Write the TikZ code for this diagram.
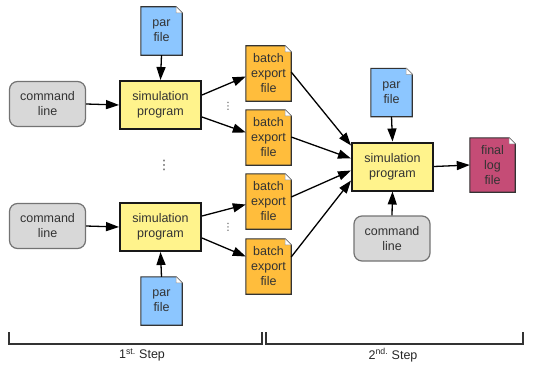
\documentclass[tikz,border=0pt]{standalone}
\usepackage{fontspec}
\setmainfont{Liberation Sans}
\newfontfamily\dejavu{DejaVu Sans}
\usetikzlibrary{arrows.meta,backgrounds}
\definecolor{parblue}{HTML}{8CC6FF}
\definecolor{batchorange}{HTML}{FFBD3C}
\definecolor{logred}{HTML}{C54C76}
\definecolor{simyellow}{HTML}{FFF38C}
\definecolor{cmdgray}{HTML}{D8D8D8}
\definecolor{edge}{HTML}{333333}
\begin{document}
\begin{tikzpicture}[x=1pt,y=-1pt,
  txt/.style={font=\fontsize{12.5}{15}\selectfont, text=black!80, align=center, inner sep=0pt},
  parfile/.style={txt, minimum width=41pt, minimum height=48pt},
  batchfile/.style={txt, minimum width=45pt, minimum height=55pt},
  logfile/.style={txt, minimum width=45pt, minimum height=54pt},
  simbox/.style={txt, draw=black!90, line width=2pt, fill=simyellow, minimum width=81pt, minimum height=48pt},
  cmdbox/.style={txt, draw=black!55, line width=1.2pt, fill=cmdgray, rounded corners=8pt, minimum width=76pt, minimum height=45pt},
  docline/.style={draw=edge, line width=1.1pt},
  conn/.style={draw=black, line width=1.3pt, -{Triangle[length=13pt,width=9pt]}},
  bracket/.style={draw=edge, line width=1.3pt},
  dotsnode/.style={font=\dejavu\fontsize{10}{10}\selectfont, text=black!70, inner sep=0pt}
]
\useasboundingbox (0,0) rectangle (534,369);

% first step, upper chain
\node[parfile] (par1) at (161.5,31) {par\\file};
\node[cmdbox] (cmd1) at (47.5,104) {command\\line};
\node[simbox] (sim1) at (160.5,105) {simulation\\program};
% first step, lower chain
\node[cmdbox] (cmd2) at (47.5,226) {command\\line};
\node[simbox] (sim2) at (160.5,227) {simulation\\program};
\node[parfile] (par2) at (161.5,301) {par\\file};
% batch export files
\node[batchfile] (b1) at (268.5,73.5) {batch\\export\\file};
\node[batchfile] (b2) at (268.5,137.5) {batch\\export\\file};
\node[batchfile] (b3) at (268.5,201.5) {batch\\export\\file};
\node[batchfile] (b4) at (268.5,266.5) {batch\\export\\file};
% second step
\node[parfile] (par3) at (391.5,92.5) {par\\file};
\node[simbox] (sim3) at (392.5,166.5) {simulation\\program};
\node[cmdbox] (cmd3) at (392,238.5) {command\\line};
\node[logfile] (final) at (492.5,165) {final\\log\\file};

% dots
\node[dotsnode] (d1) at (228,106) {⋮};
\node[dotsnode] (d2) at (228,227) {⋮};
\node[dotsnode, font=\dejavu\fontsize{13}{13}\selectfont] (d3) at (164,165) {⋮};

% document shapes
\begin{scope}[on background layer]
\foreach \n/\c in {par1/parblue,par2/parblue,par3/parblue,b1/batchorange,b2/batchorange,b3/batchorange,b4/batchorange,final/logred}{
  \filldraw[docline, fill=\c] (\n.south west) -- (\n.north west) -- ([xshift=-6pt]\n.north east) -- ([yshift=-6pt]\n.north east) -- (\n.south east) -- cycle;
  \filldraw[draw=black!40, line width=0.5pt, fill=white] ([xshift=-6pt]\n.north east) -- ([xshift=-6pt,yshift=-6pt]\n.north east) -- ([yshift=-6pt]\n.north east) -- cycle;
}
\end{scope}

% connectors
\draw[conn] (par1.south) -- (sim1.north);
\draw[conn] (cmd1.east) -- (sim1.west);
\draw[conn] ([yshift=10pt]sim1.east) -- ([yshift=-3pt]b1.west);
\draw[conn] ([yshift=-12pt]sim1.east) -- ([yshift=5pt]b2.west);
\draw[conn] (cmd2.east) -- (sim2.west);
\draw[conn] (par2.north) -- (sim2.south);
\draw[conn] ([yshift=11pt]sim2.east) -- ([yshift=-3pt]b3.west);
\draw[conn] ([yshift=-11pt]sim2.east) -- ([yshift=10pt]b4.west);
\draw[conn] ([yshift=1.5pt]b1.east) -- ([yshift=21pt]sim3.west);
\draw[conn] ([yshift=0.5pt]b2.east) -- ([yshift=8pt]sim3.west);
\draw[conn] ([yshift=4.5pt]b3.east) -- ([yshift=-4pt]sim3.west);
\draw[conn] ([yshift=9.5pt]b4.east) -- ([yshift=-14pt]sim3.west);
\draw[conn] (par3.south) -- (sim3.north);
\draw[conn] (cmd3.north) -- (sim3.south);
\draw[conn] (sim3.east) -- (final.west);

% step brackets
\draw[bracket] (9,332) -- (9,344) -- (262,344) -- (262,332);
\draw[bracket] (266,332) -- (266,344) -- (523,344) -- (523,332);
\node[txt, text=black!85] (s1) at (142,355) {1\textsuperscript{st.} Step};
\node[txt, text=black!85] (s2) at (393,355) {2\textsuperscript{nd.} Step};
\end{tikzpicture}
\end{document}
